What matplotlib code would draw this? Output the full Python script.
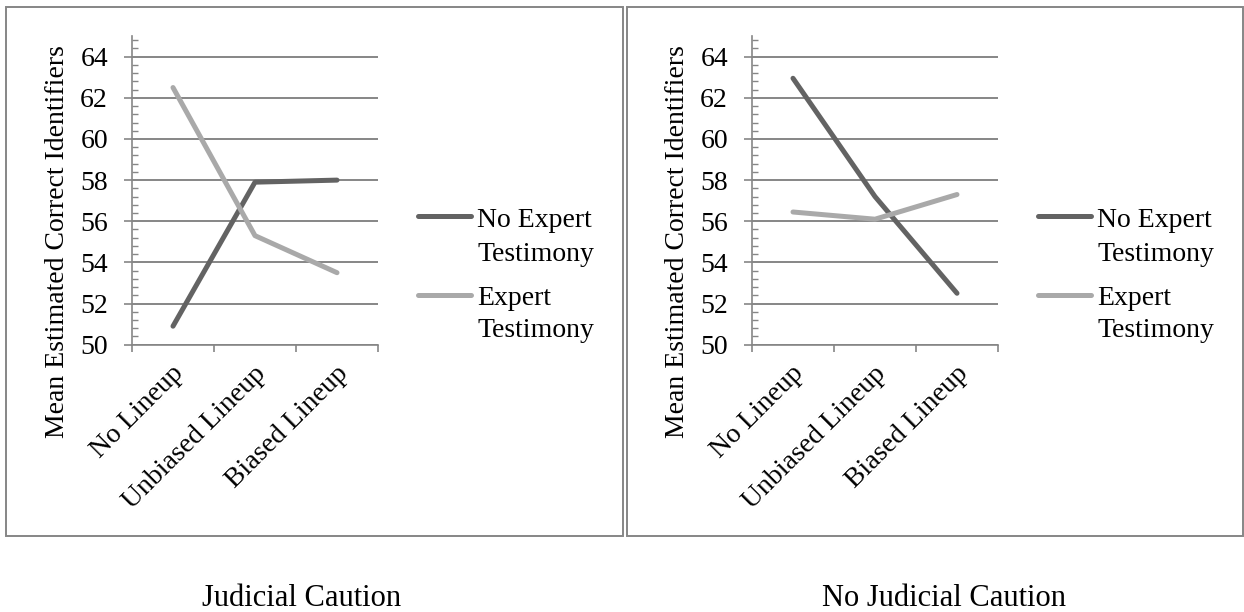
import numpy as np
import matplotlib
matplotlib.use("Agg")
import matplotlib.pyplot as plt
from matplotlib.lines import Line2D
from matplotlib.patches import Rectangle
from matplotlib.transforms import ScaledTranslation

categories = ["No Lineup", "Unbiased Lineup", "Biased Lineup"]
series_names = [["No Expert", "Testimony"], ["Expert", "Testimony"]]

# judicial caution condition
caution_no_expert = [50.9, 57.9, 58.0]
caution_expert = [62.5, 55.3, 53.5]

# no judicial caution condition
no_caution_no_expert = [62.95, 57.2, 52.5]
no_caution_expert = [56.45, 56.1, 57.3]

panel_titles = ["Judicial Caution", "No Judicial Caution"]
y_label = "Mean Estimated Correct Identifiers"

W, H = 1244, 612
DARK = "#636363"
LIGHT = "#a9a9a9"
AXIS_GRAY = "#868686"

plt.rcParams["font.family"] = ["Liberation Serif", "DejaVu Serif"]
plt.rcParams["font.size"] = 20

fig = plt.figure(figsize=(W / 100, H / 100), dpi=100)


def px_box(x0, y0, x1, y1):
    # pixel rectangle (top-left origin) -> figure fraction
    return [x0 / W, 1 - y1 / H, (x1 - x0) / W, (y1 - y0) / H]


def fx(x):
    return x / W


def fy(y):
    return 1 - y / H


def draw_panel(off, frame, no_expert, expert, title, title_x):
    # outer border of the panel
    x0, x1 = frame
    fig.add_artist(Rectangle((fx(x0), fy(536)), (x1 - x0) / W, 529 / H,
                             transform=fig.transFigure, fill=False,
                             edgecolor=AXIS_GRAY, lw=1.4))

    ax = fig.add_axes(px_box(off + 132, 36.1, off + 378, 344.7))
    x = np.arange(len(categories))
    ax.plot(x, no_expert, color=DARK, lw=3.6, solid_capstyle="round", zorder=3)
    ax.plot(x, expert, color=LIGHT, lw=3.6, solid_capstyle="round", zorder=4)

    ax.set_xlim(-0.5, 2.5)
    ax.set_ylim(50, 65)

    for side in ("top", "right"):
        ax.spines[side].set_visible(False)
    for side in ("left", "bottom"):
        ax.spines[side].set_color(AXIS_GRAY)
        ax.spines[side].set_linewidth(1.2)

    ax.set_yticks(np.arange(50, 65, 2))
    ax.set_yticks(np.arange(50, 65, 0.4), minor=True)
    ax.yaxis.grid(True, which="major", color=AXIS_GRAY, lw=1.4, zorder=1)
    ax.tick_params(axis="y", which="major", direction="out", length=5.8,
                   width=1.2, color=AXIS_GRAY, pad=11.5, labelsize=20)
    ax.tick_params(axis="y", which="minor", direction="in", length=4.3,
                   width=1.0, color=AXIS_GRAY)

    ax.set_xticks(x)
    ax.set_xticks([-0.5, 0.5, 1.5, 2.5], minor=True)
    ax.set_xticklabels(categories, rotation=45, ha="right", va="center",
                       rotation_mode="anchor")
    ax.tick_params(axis="x", which="major", length=0, pad=18, labelsize=20)
    ax.tick_params(axis="x", which="minor", direction="out", length=5,
                   width=1.2, color=AXIS_GRAY)
    shift = ScaledTranslation(0.07, 0, fig.dpi_scale_trans)
    for lab in ax.get_xticklabels():
        lab.set_transform(lab.get_transform() + shift)

    fig.text(fx(off + 58), fy(242), y_label, rotation=90,
             ha="center", va="center", fontsize=20)

    # legend, handle level with the first text line
    for lines, color, ly, baselines in zip(series_names, [DARK, LIGHT],
                                           [216, 295], [[227, 261], [305, 337]]):
        fig.add_artist(Line2D([fx(off + 418), fx(off + 471)], [fy(ly), fy(ly)],
                              transform=fig.transFigure, color=color, lw=3.6,
                              solid_capstyle="round"))
        for txt, by in zip(lines, baselines):
            fig.text(fx(off + 477), fy(by), txt, ha="left", va="baseline",
                     fontsize=20)

    fig.text(fx(title_x), fy(598), title, ha="center", va="center", fontsize=22)
    return ax


draw_panel(0, (6, 623), caution_no_expert, caution_expert, panel_titles[0], 302)
draw_panel(620, (627, 1243), no_caution_no_expert, no_caution_expert,
           panel_titles[1], 944)

fig.savefig("out.png", dpi=100, facecolor="white")
